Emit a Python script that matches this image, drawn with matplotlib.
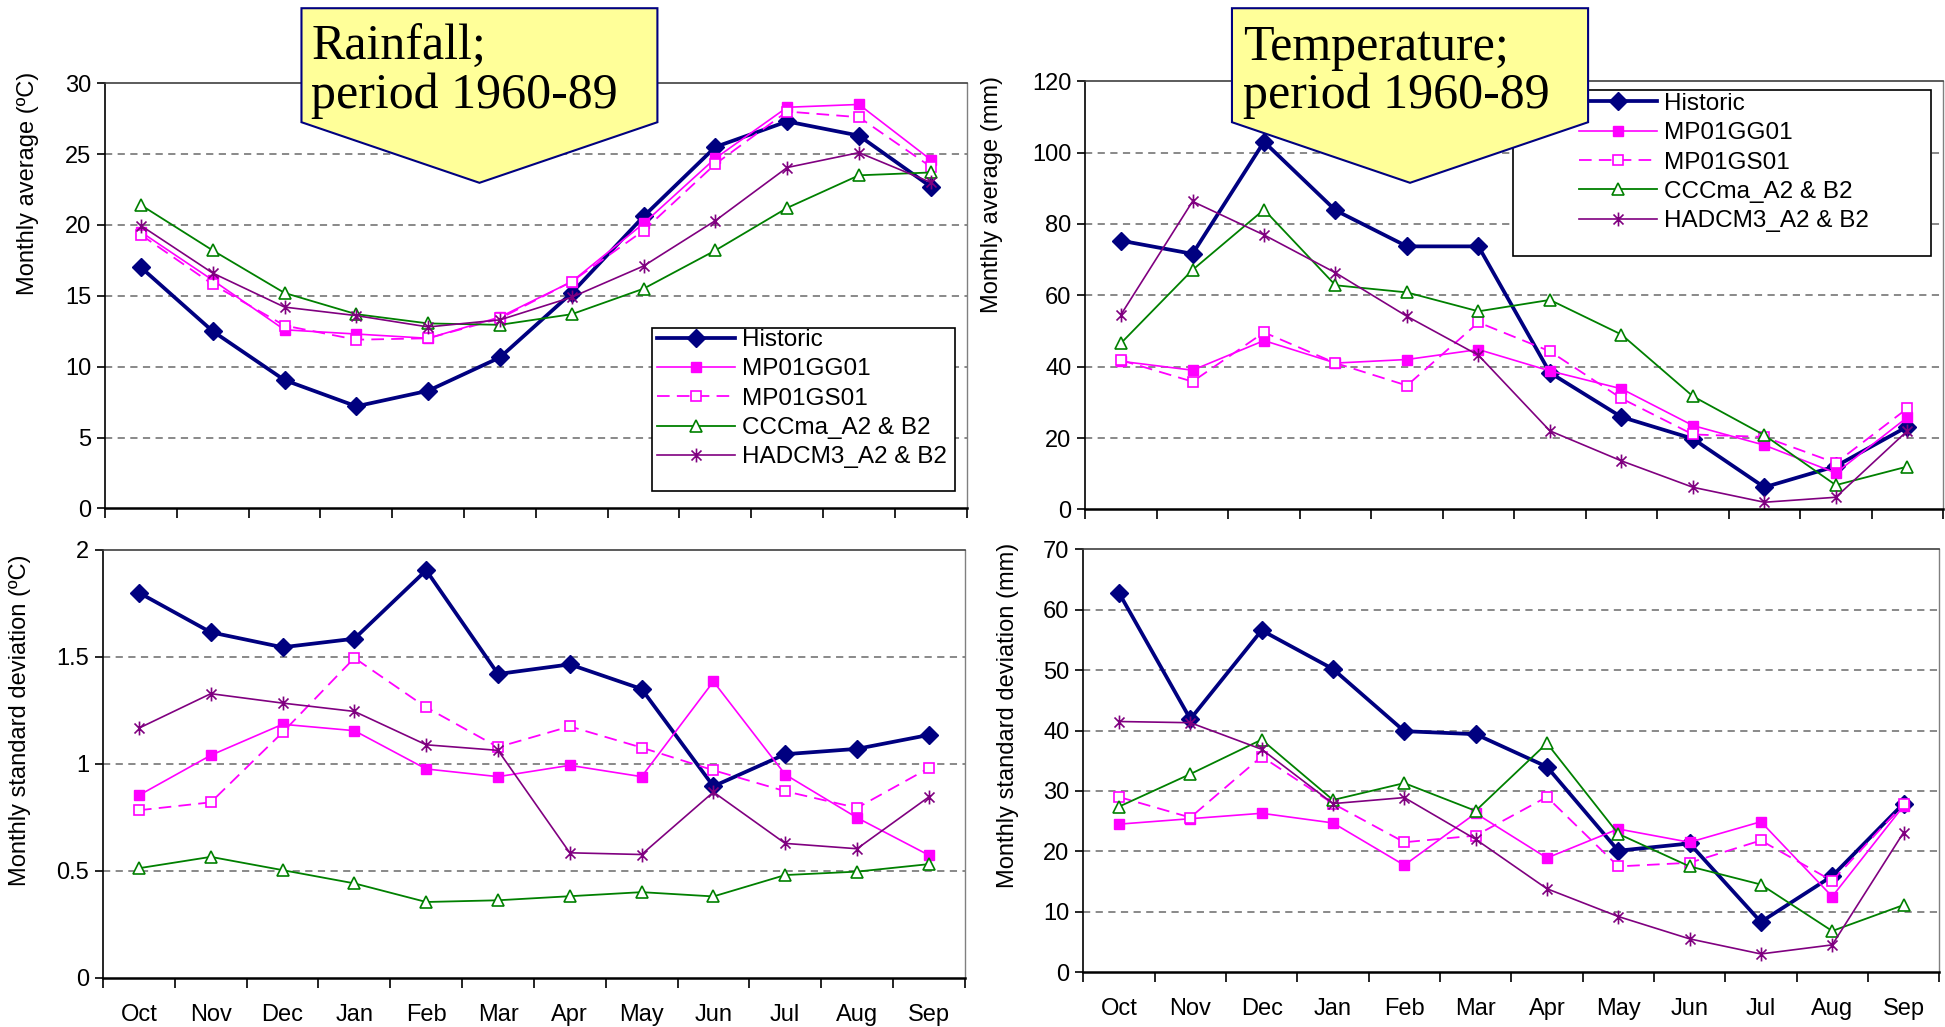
import matplotlib

matplotlib.use('Agg')
import matplotlib.pyplot as plt
from matplotlib.path import Path
from matplotlib.patches import Polygon, Rectangle

plt.rcParams['font.family'] = ['Liberation Sans', 'DejaVu Sans']

months = ['Oct', 'Nov', 'Dec', 'Jan', 'Feb', 'Mar', 'Apr', 'May', 'Jun', 'Jul', 'Aug', 'Sep']
series_names = ['Historic', 'MP01GG01', 'MP01GS01', 'CCCma_A2 & B2', 'HADCM3_A2 & B2']

# rainfall panel (top left): monthly average
avg_left_historic = [17.0, 12.5, 9.05, 7.2, 8.3, 10.65, 15.2, 20.6, 25.5, 27.3, 26.3, 22.7]
avg_left_gg01 = [19.5, 16.1, 12.6, 12.3, 12.0, 13.5, 16.0, 20.1, 24.7, 28.3, 28.5, 24.6]
avg_left_gs01 = [19.3, 15.8, 12.9, 11.9, 12.0, 13.4, 16.0, 19.6, 24.3, 28.0, 27.6, 24.1]
avg_left_cccma = [21.4, 18.2, 15.2, 13.7, 13.05, 12.95, 13.7, 15.5, 18.2, 21.2, 23.5, 23.7]
avg_left_hadcm3 = [19.95, 16.6, 14.2, 13.6, 12.8, 13.3, 14.9, 17.1, 20.3, 24.05, 25.1, 23.0]

# rainfall panel (bottom left): monthly standard deviation
sd_left_historic = [1.80, 1.615, 1.545, 1.585, 1.905, 1.42, 1.465, 1.35, 0.895, 1.045, 1.07, 1.135]
sd_left_gg01 = [0.853, 1.04, 1.185, 1.155, 0.976, 0.94, 0.993, 0.94, 1.385, 0.95, 0.748, 0.573]
sd_left_gs01 = [0.783, 0.82, 1.147, 1.495, 1.264, 1.078, 1.175, 1.076, 0.97, 0.872, 0.794, 0.98]
sd_left_cccma = [0.512, 0.565, 0.503, 0.441, 0.354, 0.362, 0.381, 0.40, 0.38, 0.48, 0.496, 0.531]
sd_left_hadcm3 = [1.167, 1.328, 1.284, 1.245, 1.089, 1.063, 0.584, 0.576, 0.868, 0.628, 0.603, 0.845]

# temperature panel (top right): monthly average
avg_right_historic = [75.3, 71.6, 103.0, 83.8, 73.7, 73.7, 38.3, 25.9, 19.8, 6.2, 12.1, 23.2]
avg_right_gg01 = [41.5, 39.0, 47.3, 41.0, 42.0, 44.8, 38.8, 33.8, 23.5, 18.0, 10.2, 25.8]
avg_right_gs01 = [41.8, 35.8, 49.6, 41.0, 34.7, 52.4, 44.3, 31.1, 21.0, 20.3, 13.0, 28.3]
avg_right_cccma = [46.6, 67.1, 84.0, 62.8, 60.8, 55.5, 58.7, 49.0, 31.7, 20.8, 6.8, 12.0]
avg_right_hadcm3 = [54.6, 86.3, 76.9, 66.3, 54.1, 43.2, 22.0, 13.6, 6.2, 2.0, 3.4, 22.0]

# temperature panel (bottom right): monthly standard deviation
sd_right_historic = [62.8, 41.9, 56.6, 50.2, 39.9, 39.4, 34.0, 20.1, 21.3, 8.3, 15.9, 27.9]
sd_right_gg01 = [24.5, 25.4, 26.3, 24.7, 17.7, 26.3, 18.9, 23.7, 21.5, 24.9, 12.5, 27.5]
sd_right_gs01 = [29.0, 25.6, 35.7, 27.9, 21.5, 22.6, 29.0, 17.5, 18.1, 21.8, 15.1, 27.8]
sd_right_cccma = [27.4, 32.8, 38.5, 28.5, 31.3, 26.7, 37.9, 22.9, 17.5, 14.5, 6.8, 11.1]
sd_right_hadcm3 = [41.5, 41.3, 36.9, 27.9, 28.9, 22.0, 13.8, 9.2, 5.5, 3.0, 4.5, 23.1]

# excel style star marker: vertical bar plus an x
star = Path([(0, -1), (0, 1), (-0.72, -0.72), (0.72, 0.72), (-0.72, 0.72), (0.72, -0.72)],
            [Path.MOVETO, Path.LINETO] * 3)

styles = [
    dict(color='#000080', lw=2.7, marker='D', ms=9.5, mfc='#000080', mec='#000080', ls='-'),
    dict(color='#FF00FF', lw=1.2, marker='s', ms=7, mfc='#FF00FF', mec='#FF00FF', ls='-'),
    dict(color='#FF00FF', lw=1.3, marker='s', ms=7, mfc='white', mec='#FF00FF', mew=1.2, ls=(0, (7, 4))),
    dict(color='#008000', lw=1.3, marker='^', ms=8.5, mfc='white', mec='#008000', mew=1.2, ls='-'),
    dict(color='#800080', lw=1.2, marker=star, ms=10, mfc='none', mec='#800080', mew=1.2, ls='-'),
]

fig = plt.figure(figsize=(19.45, 10.27), dpi=100)

panels = [
    ([0.054, 0.505, 0.443, 0.414], [avg_left_historic, avg_left_gg01, avg_left_gs01, avg_left_cccma, avg_left_hadcm3],
     30, 5, False),
    ([0.558, 0.504, 0.441, 0.417], [avg_right_historic, avg_right_gg01, avg_right_gs01, avg_right_cccma, avg_right_hadcm3],
     120, 20, False),
    ([0.053, 0.048, 0.443, 0.4165], [sd_left_historic, sd_left_gg01, sd_left_gs01, sd_left_cccma, sd_left_hadcm3],
     2, 0.5, True),
    ([0.557, 0.0535, 0.44, 0.4115], [sd_right_historic, sd_right_gg01, sd_right_gs01, sd_right_cccma, sd_right_hadcm3],
     70, 10, True),
]

axes = []
x = list(range(len(months)))
for rect, data, ymax, step, show_months in panels:
    ax = fig.add_axes(rect)
    for vals, name, st in zip(data, series_names, styles):
        ax.plot(x, vals, label=name, clip_on=False, **st)
    ax.set_xlim(-0.5, len(months) - 0.5)
    ax.set_ylim(0, ymax)
    yt = [i * step for i in range(int(round(ymax / step)) + 1)]
    ax.set_yticks(yt)
    ax.set_yticklabels(['%g' % v for v in yt])
    ax.set_xticks(x)
    ax.set_xticklabels(months)
    ax.set_xticks([i - 0.5 for i in range(len(months) + 1)], minor=True)
    ax.tick_params(axis='x', which='major', length=0, pad=19, labelsize=17, labelbottom=show_months)
    ax.tick_params(axis='x', which='minor', length=7, width=1.2, direction='out', color='black')
    ax.tick_params(axis='y', length=6, width=1.2, direction='out', labelsize=17, pad=4)
    for yv in yt[1:-1]:
        ax.axhline(yv, color='#808080', lw=1.3, ls=(0, (4, 3)), zorder=0.5)
    ax.spines['bottom'].set_linewidth(1.8)
    ax.spines['left'].set_linewidth(1.2)
    ax.spines['top'].set_color('#404040')
    ax.spines['top'].set_linewidth(1.2)
    ax.spines['right'].set_color('#808080')
    ax.spines['right'].set_linewidth(1.0)
    axes.append(ax)

# y axis titles
ylabels = [
    (0.0146, 0.821, 'Monthly average (ºC)'),
    (0.510, 0.811, 'Monthly average (mm)'),
    (0.0105, 0.299, 'Monthly standard deviation (ºC)'),
    (0.518, 0.303, 'Monthly standard deviation (mm)'),
]
for lx, ly, txt in ylabels:
    fig.text(lx, ly, txt, rotation=90, ha='center', va='center', fontsize=17)

# legends with square black frames
legend_boxes = [
    (axes[0], (0.3352, 0.5219, 0.491, 0.6806), (0.3378, 0.6795)),
    (axes[1], (0.7779, 0.7507, 0.9928, 0.9124), (0.8118, 0.9095)),
]
for ax, (x0, y0, x1, y1), anchor in legend_boxes:
    ax.add_patch(Rectangle((x0, y0), x1 - x0, y1 - y0, transform=fig.transFigure,
                           facecolor='white', edgecolor='black', lw=1.2, zorder=4, clip_on=False))
    leg = ax.legend(loc='upper left', bbox_to_anchor=anchor, bbox_transform=fig.transFigure,
                    frameon=False, fontsize=17.5, handlelength=3.2, handletextpad=0.3,
                    labelspacing=0.3, borderpad=0, borderaxespad=0)
    leg.set_zorder(5)

# yellow callouts with titles
callouts = [
    (0.155, 0.338, 0.160, 'Rainfall;'),
    (0.6334, 0.8165, 0.639, 'Temperature;'),
]
for cx0, cx1, tx, first in callouts:
    tip = (cx0 + cx1) / 2
    poly = Polygon([(cx0, 0.992), (cx1, 0.992), (cx1, 0.881), (tip, 0.822), (cx0, 0.881)],
                   closed=True, transform=fig.transFigure, facecolor='#FFFF99',
                   edgecolor='#000080', lw=1.5, zorder=10)
    fig.add_artist(poly)
    fig.text(tx, 0.9416, first, fontsize=36, family=['Liberation Serif', 'DejaVu Serif'],
             va='baseline', ha='left', zorder=11)
    fig.text(tx, 0.8948, 'period 1960-89', fontsize=36, family=['Liberation Serif', 'DejaVu Serif'],
             va='baseline', ha='left', zorder=11)

fig.savefig('out.png', dpi=100)
plt.close(fig)
